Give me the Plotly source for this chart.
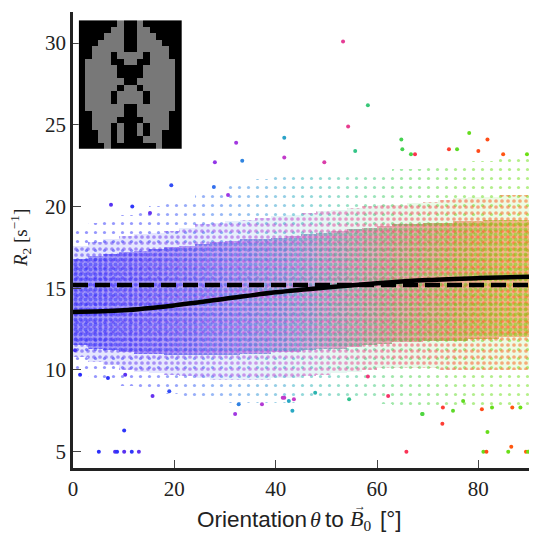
import plotly.graph_objects as go
import numpy as np

# ---------------- data ----------------
bin_left = list(range(0, 90, 3))          # 3-degree orientation bins
bin_width = 3

# sparse halo of the cloud (R2 limits per bin)
outer_lo = [10.0, 9.5, 9.3, 9.0, 8.8, 8.6, 8.5, 8.4, 8.3, 8.2, 8.0, 8.0, 8.0, 8.0, 8.0,
            8.1, 8.1, 8.2, 8.2, 8.1, 7.9, 7.8, 7.6, 7.6, 7.5, 7.5, 7.5, 7.5, 7.5, 7.5]
outer_hi = [18.5, 19.0, 19.3, 19.5, 19.8, 20.0, 20.2, 20.5, 20.8, 21.0, 21.3, 21.5, 21.7, 21.8, 22.0,
            22.0, 22.0, 22.0, 22.0, 22.0, 22.2, 22.3, 22.3, 22.5, 22.5, 22.6, 22.8, 22.8, 23.0, 23.0]
# moderately dense part
mid_lo = [10.8, 10.5, 10.3, 10.0, 9.9, 9.8, 9.7, 9.6, 9.5, 9.4, 9.4, 9.4, 9.4, 9.5, 9.5,
          9.6, 9.7, 9.8, 9.9, 10.0, 10.1, 10.1, 10.1, 10.1, 10.0, 10.0, 10.0, 10.0, 10.0, 10.0]
mid_hi = [17.6, 17.8, 18.0, 18.2, 18.3, 18.4, 18.5, 18.7, 18.9, 19.0, 19.1, 19.2, 19.3, 19.4, 19.5,
          19.6, 19.7, 19.8, 19.9, 20.0, 20.1, 20.1, 20.2, 20.3, 20.4, 20.5, 20.6, 20.6, 20.7, 20.7]
# very dense core
core_lo = [11.5, 11.3, 11.2, 11.1, 11.0, 11.0, 10.9, 10.9, 10.9, 10.9, 10.9, 11.0, 11.0, 11.1, 11.1,
           11.2, 11.3, 11.3, 11.4, 11.5, 11.6, 11.7, 11.7, 11.8, 11.8, 11.8, 11.9, 11.9, 12.0, 12.0]
core_hi = [16.8, 17.0, 17.1, 17.2, 17.3, 17.4, 17.5, 17.6, 17.7, 17.8, 17.9, 18.0, 18.0, 18.1, 18.2,
           18.3, 18.4, 18.5, 18.6, 18.7, 18.8, 18.9, 18.9, 19.0, 19.0, 19.1, 19.1, 19.2, 19.2, 19.2]

# isolated points
out_theta = [53.3, 58.2, 54.3, 41.7, 32.2, 55.7, 49.6, 33.4, 41.7, 78.2, 81.8, 64.8, 74.2, 75.8,
             80.0, 89.6, 84.9, 66.7, 67.5, 65.0, 28.0, 19.4, 7.5, 11.7, 15.2, 27.8, 30.6,
             5.1, 8.3, 8.7, 10.1, 11.6, 13.0, 10.1, 65.8, 81.0, 81.6, 81.8, 86.5, 85.9, 89.4, 89.8,
             72.9, 68.9, 15.7, 19.0, 32.0, 32.7, 37.3, 43.3, 41.7, 42.6, 43.6, 47.8, 41.4, 54.5,
             58.2, 69.0, 73.0, 75.0, 80.7, 82.7, 86.7, 88.3, 62.2, 77.0, 0.4, 1.4, 10.3, 6.9]
out_r2 = [30.1, 26.2, 24.9, 24.2, 23.9, 23.4, 22.7, 22.8, 23.0, 24.5, 24.1, 24.1, 23.5, 23.5,
          23.4, 23.2, 23.2, 23.2, 23.2, 23.5, 22.7, 21.3, 20.1, 20.0, 19.6, 21.2, 20.7,
          5.0, 5.0, 5.0, 5.0, 5.0, 5.0, 6.3, 5.0, 5.0, 5.0, 6.2, 5.3, 5.0, 5.0, 5.0,
          6.7, 7.3, 8.4, 8.7, 7.3, 7.9, 7.9, 7.5, 8.3, 8.1, 8.2, 8.6, 8.3, 8.2,
          9.6, 7.3, 7.7, 7.5, 7.6, 7.7, 7.7, 7.7, 8.4, 8.1, 11.2, 9.7, 9.7, 9.5]

# fitted curves
fit_theta = [0, 10, 20, 30, 40, 50, 60, 70, 80, 90]
fit_r2 = [13.55, 13.65, 13.95, 14.35, 14.75, 15.05, 15.3, 15.5, 15.62, 15.7]
mean_r2 = 15.2

x_ticks = [0, 20, 40, 60, 80]
y_ticks = [5, 10, 15, 20, 25, 30]

# inset brain slice (coarse mask, '#' = white matter)
brain_rows = [
    "......#..#......",
    ".....##..##.....",
    "....###..###....",
    "...####..####...",
    "..#####..#####..",
    "..###.####.###..",
    ".####..##..####.",
    ".#####....#####.",
    ".#####....#####.",
    ".######..######.",
    ".#####.##.#####.",
    ".####.####.####.",
    ".####.####.####.",
    ".######..######.",
    "..#####..#####..",
    "..####....####..",
    "..###.#..#.###..",
    "...##.#..#.##...",
    "...##.#...###...",
    "....#.......#...",
]

# ---------------- styling ----------------
stop_t = [0, 15, 30, 45, 55, 65, 78, 90]
stop_a = [(40, 40, 250), (50, 60, 250), (50, 120, 235), (40, 175, 190), (50, 195, 140),
          (70, 210, 80), (100, 220, 30), (110, 225, 20)]
stop_b = [(70, 50, 245), (100, 50, 240), (155, 55, 230), (205, 60, 195), (235, 60, 140),
          (250, 50, 90), (255, 70, 30), (255, 95, 10)]


def colr(t, stops, alpha=1.0):
    c = [np.interp(t, stop_t, [s[i] for s in stops]) for i in range(3)]
    return "rgba(%d,%d,%d,%.2f)" % (c[0], c[1], c[2], alpha)


centers = [b + bin_width / 2 for b in bin_left]
colA = [colr(t, stop_a) for t in centers]
colB = [colr(t, stop_b) for t in centers]
tintB_core = [colr(t, stop_b, 0.42) for t in centers]
tintA_mid = [colr(t, stop_a, 0.12) for t in centers]


def band(lo, hi, fg, size, solidity, bg=None):
    return go.Bar(
        x=centers, base=lo, y=[h - l for h, l in zip(hi, lo)], width=bin_width,
        marker=dict(color="rgba(0,0,0,0)", line=dict(width=0),
                    pattern=dict(shape=".", fgcolor=fg, size=size, solidity=solidity,
                                 bgcolor=bg if bg is not None else "rgba(0,0,0,0)")),
        hoverinfo="skip", showlegend=False)


fig = go.Figure()
fig.add_trace(band(outer_lo, outer_hi, colA, 9, 0.10))
fig.add_trace(band(mid_lo, mid_hi, colB, 6, 0.30, tintA_mid))
fig.add_trace(band(core_lo, core_hi, colA, 5, 0.50, tintB_core))

fig.add_trace(go.Scatter(
    x=out_theta, y=out_r2, mode="markers",
    marker=dict(size=4, color=[colr(t, stop_a if i % 2 else stop_b) for i, t in enumerate(out_theta)]),
    hoverinfo="skip", showlegend=False))

fig.add_trace(go.Scatter(x=[0, 90], y=[mean_r2, mean_r2], mode="lines",
                         line=dict(color="black", width=4.5, dash="15px,7px"),
                         hoverinfo="skip", showlegend=False))
fig.add_trace(go.Scatter(x=fit_theta, y=fit_r2, mode="lines", line_shape="spline",
                         line=dict(color="black", width=4.5), hoverinfo="skip", showlegend=False))

z = [[1 if ch == "#" else 0 for ch in row] for row in brain_rows]
fig.add_trace(go.Heatmap(z=z, xaxis="x2", yaxis="y2", showscale=False, hoverinfo="skip",
                         colorscale=[[0, "black"], [1, "rgb(120,120,120)"]], zsmooth=False))

serif = "Liberation Serif"
sans = "Liberation Sans"


# helpers to place text at reference pixel positions (plot area: x 73..529, y 12..468)
def px(sx):
    return (sx - 73) / 456.0


def py(sy):
    return (468 - sy) / 456.0


ann = []
ty = 520
for txt, fam, left, size in [("Orientation", sans, 196, 22.5), ("<i>θ</i>", serif, 309, 22),
                             ("to", sans, 324, 22.5), ("<i>B</i><sub>0</sub>", serif, 349, 22),
                             ("[°]", sans, 379, 22.5)]:
    ann.append(dict(text=txt, x=px(left), y=py(ty), xref="paper", yref="paper",
                    xanchor="left", yanchor="middle", showarrow=False,
                    font=dict(family=fam, size=size, color="#222"), borderpad=0))
ann.append(dict(text="→", x=px(360), y=py(506), xref="paper", yref="paper",
                xanchor="center", yanchor="middle", showarrow=False,
                font=dict(family=serif, size=12, color="#222"), borderpad=0))
ann.append(dict(text="<i>R</i><sub>2</sub> [s<sup>−1</sup>]", x=px(20), y=py(238),
                xref="paper", yref="paper", xanchor="center", yanchor="middle",
                textangle=-90, showarrow=False, font=dict(family=serif, size=19, color="#222"),
                borderpad=0))

# the page adds an 8px body margin, so the figure is 8px smaller than the window
fig.update_layout(
    width=547, height=528,
    margin=dict(l=65, r=26, t=4, b=68),
    paper_bgcolor="white", plot_bgcolor="white",
    barmode="overlay", bargap=0,
    showlegend=False,
    font=dict(family=serif, color="#222", size=21),
    annotations=ann,
    xaxis=dict(range=[0, 90], tickvals=x_ticks, ticks="inside", ticklen=8, tickwidth=1.3,
               tickcolor="#444", showline=True, linecolor="#222", linewidth=2.5,
               showgrid=False, zeroline=False, tickfont=dict(family=serif, size=21)),
    yaxis=dict(range=[4.0, 31.9], tickvals=y_ticks, ticks="inside", ticklen=8, tickwidth=1.3,
               tickcolor="#444", showline=True, linecolor="#222", linewidth=2.5,
               showgrid=False, zeroline=False, tickfont=dict(family=serif, size=21)),
    xaxis2=dict(domain=[0.0125, 0.239], anchor="y2", visible=False,
                range=[-0.5, len(brain_rows[0]) - 0.5]),
    yaxis2=dict(domain=[0.700, 0.982], anchor="x2", visible=False,
                range=[len(brain_rows) - 0.5, -0.5]),
)

fig.write_html("out.html")
